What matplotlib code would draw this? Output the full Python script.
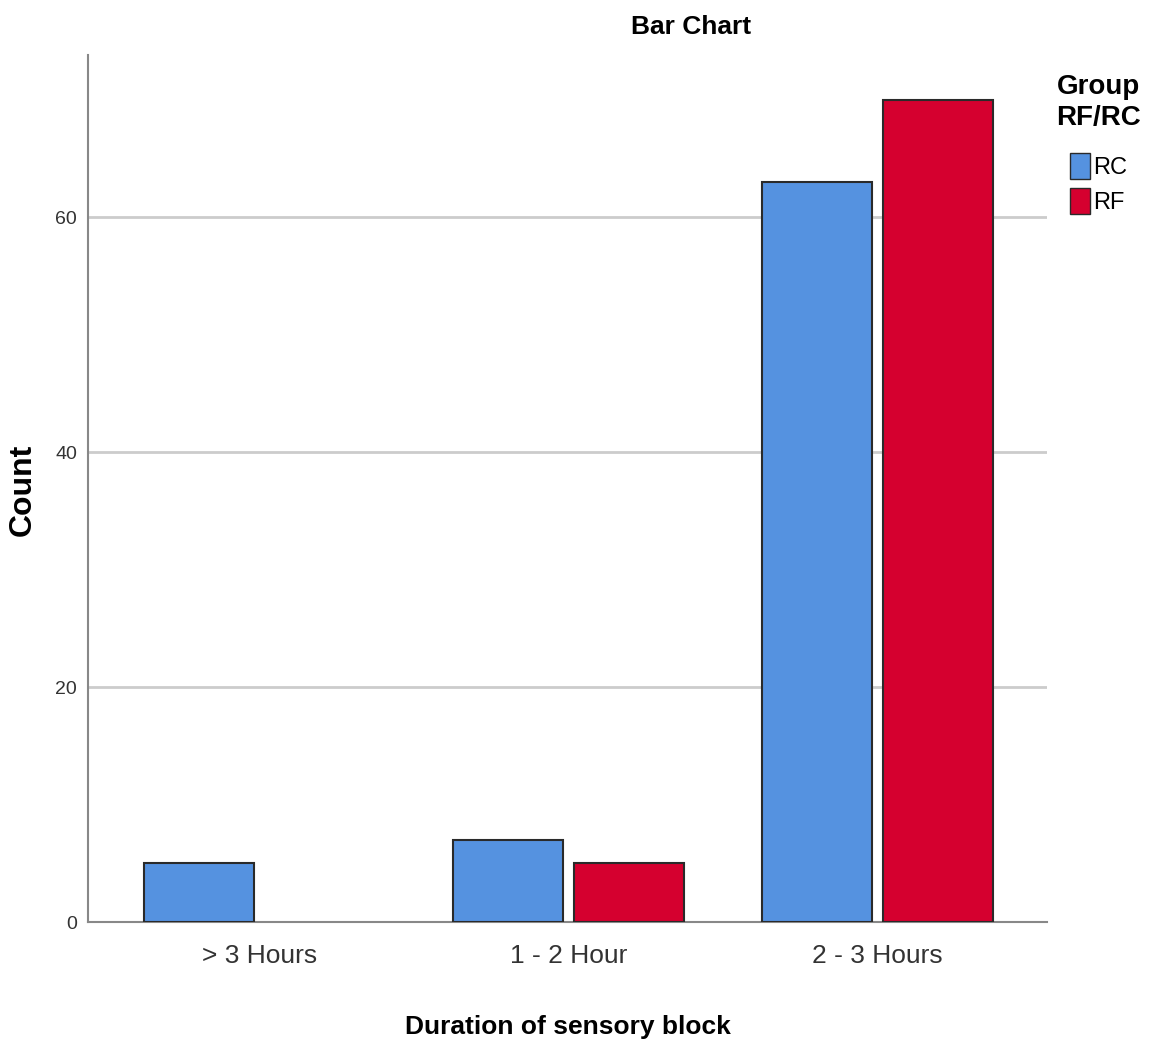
import numpy as np
import matplotlib.pyplot as plt
from matplotlib.patches import Patch

categories = ["> 3 Hours", "1 - 2 Hour", "2 - 3 Hours"]
groups = ["RC", "RF"]
rc_counts = [5, 7, 63]
rf_counts = [0, 5, 70]
colors = {"RC": "#5592E0", "RF": "#D5002F"}

plt.rcParams["font.family"] = ["Liberation Sans", "DejaVu Sans"]

fig = plt.figure(figsize=(11.52, 10.53), dpi=100)
ax = fig.add_axes([0.0764, 0.1244, 0.8325, 0.8234])

x = np.arange(len(categories))
w = 0.356
off = 0.196
for vals, g, sign in [(rc_counts, "RC", -1), (rf_counts, "RF", 1)]:
    bars = ax.bar(x + sign * off, vals, w, color=colors[g], edgecolor="#2a2a2a",
                  linewidth=1.5, zorder=3)
    for b, v in zip(bars, vals):
        if v == 0:
            b.set_visible(False)  # empty cell, SPSS draws nothing

ax.set_xlim(-0.557, 2.55)
ax.set_ylim(0, 73.8)
ax.set_yticks([0, 20, 40, 60])
ax.set_xticks(x)
ax.set_xticklabels(categories, fontsize=19, color="#333333")
ax.tick_params(axis="y", labelsize=14, length=0, pad=8, colors="#333333")
ax.tick_params(axis="x", length=0, pad=16)
ax.grid(axis="y", color="#cccccc", linewidth=2, zorder=0)

for s in ["top", "right"]:
    ax.spines[s].set_visible(False)
for s in ["left", "bottom"]:
    ax.spines[s].set_color("#888888")
    ax.spines[s].set_linewidth(1.5)

fig.text(0.6, 0.974, "Bar Chart", fontsize=19, fontweight="bold", ha="center", va="center")
ax.set_xlabel("Duration of sensory block", fontsize=19, fontweight="bold", labelpad=34)
fig.text(0.02, 0.535, "Count", fontsize=23, fontweight="bold", rotation=90,
         ha="center", va="center")

handles = [Patch(facecolor=colors[g], edgecolor="#2a2a2a", label=g) for g in groups]
leg = fig.legend(handles=handles, title="Group\nRF/RC", loc="upper left",
                 bbox_to_anchor=(0.917, 0.93), frameon=False, fontsize=17,
                 title_fontproperties={"weight": "bold", "size": 20},
                 handlelength=0.85, handleheight=1.35, handletextpad=0.15,
                 labelspacing=0.35, borderaxespad=0, borderpad=0)
leg._legend_box.sep = 16
leg.get_title().set_linespacing(1.25)

fig.savefig("out.png", dpi=100)
